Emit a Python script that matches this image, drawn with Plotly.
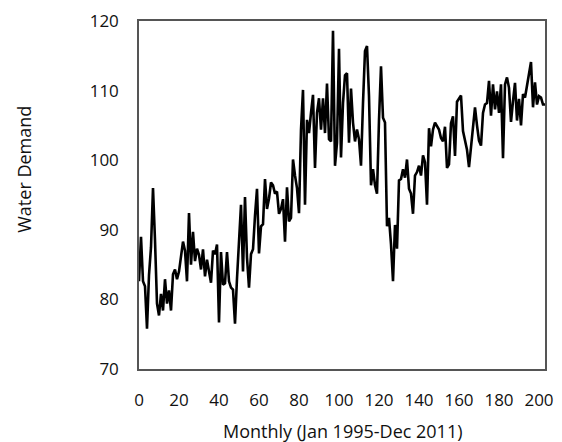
import plotly.graph_objects as go

# Monthly water demand, Jan 1995 - Dec 2011 (month index 0..203)
months = list(range(204))
demand = [
    82.6, 89.0, 82.6, 81.9, 75.8, 83.5, 87.5, 96.0, 88.5, 79.4,   # 0-9
    77.7, 80.8, 78.4, 82.9, 79.4, 81.3, 78.4, 83.6, 84.3, 82.9,   # 10-19
    84.0, 86.2, 88.3, 87.0, 82.6, 92.4, 85.0, 89.7, 85.5, 87.3,   # 20-29
    86.4, 84.3, 87.2, 83.3, 85.7, 84.0, 82.4, 87.0, 86.5, 87.9,   # 30-39
    76.7, 86.8, 82.1, 82.3, 86.8, 82.6, 81.7, 81.4, 76.5, 83.0,   # 40-49
    88.3, 93.6, 84.0, 94.7, 86.0, 81.7, 86.5, 87.2, 92.0, 95.9,   # 50-59
    86.6, 90.5, 90.8, 97.3, 93.0, 94.5, 96.8, 96.4, 95.2, 95.5,   # 60-69
    92.3, 93.0, 94.4, 88.3, 96.1, 91.2, 91.7, 100.1, 97.8, 96.0,  # 70-79
    92.4, 104.4, 110.1, 93.6, 105.8, 103.9, 106.8, 109.4, 98.9, 106.8,  # 80-89
    108.9, 104.4, 108.9, 103.9, 111.0, 103.0, 102.7, 118.6, 99.2, 102.5,  # 90-99
    116.0, 100.4, 108.2, 112.2, 112.5, 102.5, 110.3, 105.4, 102.7, 104.4,  # 100-109
    103.0, 99.2, 108.2, 115.7, 116.4, 109.2, 96.4, 98.7, 96.4, 95.2,  # 110-119
    105.8, 113.5, 106.1, 105.4, 90.5, 91.7, 87.9, 82.6, 90.7, 87.3,  # 120-129
    97.1, 97.3, 98.7, 97.5, 100.1, 95.9, 95.2, 92.3, 97.8, 98.3,  # 130-139
    99.2, 97.8, 100.7, 99.7, 93.6, 104.6, 102.0, 104.4, 105.4, 104.8,  # 140-149
    104.4, 103.2, 102.7, 104.8, 98.9, 99.4, 105.3, 106.3, 100.6, 108.4,  # 150-159
    108.9, 109.3, 104.2, 102.8, 101.5, 99.0, 101.9, 105.3, 107.6, 105.0,  # 160-169
    102.8, 102.1, 106.8, 108.0, 108.2, 111.4, 106.4, 110.9, 107.3, 109.9,  # 170-179
    106.8, 110.9, 100.3, 110.9, 111.9, 110.4, 105.5, 108.5, 111.1, 105.7,  # 180-189
    108.8, 105.0, 109.5, 109.0, 110.9, 112.4, 114.1, 107.6, 111.2, 108.0,  # 190-199
    109.2, 109.0, 108.0, 108.0,                                      # 200-203
]

x_ticks = [0, 20, 40, 60, 80, 100, 120, 140, 160, 180, 200]
y_ticks = [70, 80, 90, 100, 110, 120]
x_title = "Monthly (Jan 1995-Dec 2011)"
y_title = "Water Demand"

FONT = "Open Sans"

fig = go.Figure()
fig.add_trace(go.Scatter(
    x=months, y=demand, mode="lines",
    line=dict(color="black", width=2.6),
    showlegend=False, hoverinfo="skip",
))

fig.update_layout(
    width=562, height=442,
    margin=dict(l=139, r=9, t=17, b=73),
    paper_bgcolor="white", plot_bgcolor="white",
    font=dict(family=FONT, color="#111111"),
    xaxis=dict(
        range=[0, 203], tickvals=x_ticks, ticktext=[str(v) for v in x_ticks],
        showgrid=False, zeroline=False, ticks="",
        showline=True, mirror=True, linecolor="#555555", linewidth=1.5,
        tickfont=dict(family=FONT, size=17, color="#111111"),
        ticklabelstandoff=15,
    ),
    yaxis=dict(
        range=[70, 120], tickvals=y_ticks, ticktext=[str(v) for v in y_ticks],
        showgrid=False, zeroline=False, ticks="",
        showline=True, mirror=True, linecolor="#555555", linewidth=1.5,
        tickfont=dict(family=FONT, size=17, color="#111111"),
        ticklabelstandoff=15,
    ),
    annotations=[
        dict(text=x_title, xref="paper", yref="paper", x=0.502, y=-0.179,
             showarrow=False, xanchor="center", yanchor="middle",
             font=dict(family=FONT, size=18, color="#111111")),
        dict(text=y_title, xref="paper", yref="paper", x=-0.282, y=0.574,
             showarrow=False, xanchor="center", yanchor="middle", textangle=-90,
             font=dict(family=FONT, size=18, color="#111111")),
    ],
)

fig.write_html("out.html")
